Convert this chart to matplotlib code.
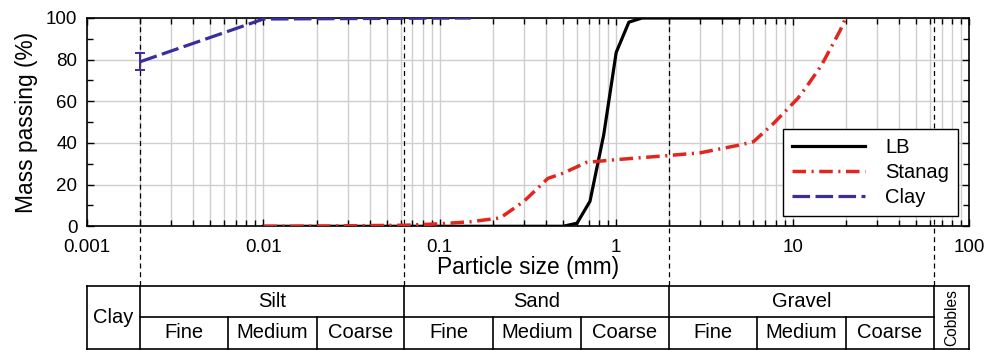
import numpy as np
import matplotlib.pyplot as plt
from matplotlib.ticker import FixedLocator, FuncFormatter, MultipleLocator, LogLocator

plt.rcParams['font.family'] = ['Liberation Sans', 'DejaVu Sans']

# -----------------------------
# Grading curves
# -----------------------------
lb_size = [0.01, 0.5, 0.6, 0.71, 0.85, 1.0, 1.18, 1.4, 5.0]
lb_pass = [0, 0, 1.5, 12, 44, 83.5, 98, 100, 100]

stanag_size = [0.01, 0.02, 0.063, 0.1, 0.15, 0.22, 0.3, 0.41, 0.5, 0.68,
               1.0, 2.0, 3.0, 5.0, 6.0, 7.8, 10.7, 12.0, 14.6, 18.6, 20.0]
stanag_pass = [0, 0.1, 0.5, 1.2, 2.2, 4, 12, 23, 25.5, 30.7,
               32, 34, 35.3, 39, 40.6, 49.4, 61.4, 67, 77.4, 94, 100]

clay_size = [0.002, 0.01, 0.15]
clay_pass = [79, 99.5, 100]
clay_err = [4, 0, 0]

# soil classification boundaries (mm)
main_bounds = [0.002, 0.063, 2, 63]
silt_edges = [0.002, 0.0063, 0.02, 0.063]
sand_edges = [0.063, 0.2, 0.63, 2]
gravel_edges = [2, 6.3, 20, 63]
main_names = ["Silt", "Sand", "Gravel"]
sub_names = ["Fine", "Medium", "Coarse"]

x_ticks = [0.001, 0.01, 0.1, 1, 10, 100]

# -----------------------------
# Figure / axes layout
# -----------------------------
W, H = 987, 350
fig = plt.figure(figsize=(W / 100, H / 100), dpi=100)

ax_l, ax_r, ax_t, ax_b = 87, 969, 18, 226.3
tab_t, tab_b = 286, 348.5
ax = fig.add_axes([ax_l / W, 1 - ax_b / H, (ax_r - ax_l) / W, (ax_b - ax_t) / H])

red = '#e3261d'
blue = '#3a2d9c'

ax.plot(lb_size, lb_pass, color='black', lw=2.3, label='LB', zorder=4)
ax.plot(stanag_size, stanag_pass, color=red, lw=2.5,
        dashes=(3.9, 1.6, 0.6, 1.6), label='Stanag', zorder=4)
ax.plot(clay_size, clay_pass, color=blue, lw=2.3, dashes=(5.5, 1.7),
        label='Clay', zorder=5)
ax.errorbar(clay_size[:1], clay_pass[:1], yerr=clay_err[:1], fmt='none',
            ecolor=blue, elinewidth=1.4, capsize=3.6, capthick=1.4, zorder=5)

ax.set_xscale('log')
ax.set_xlim(1e-3, 1e2)
ax.set_ylim(0, 100)
ax.xaxis.set_major_locator(FixedLocator(x_ticks))
ax.xaxis.set_major_formatter(FuncFormatter(lambda v, p: '%g' % v))
ax.xaxis.set_minor_locator(LogLocator(base=10, subs=np.arange(2, 10)))
ax.xaxis.set_minor_formatter(FuncFormatter(lambda v, p: ''))
ax.yaxis.set_major_locator(MultipleLocator(20))
ax.yaxis.set_minor_locator(MultipleLocator(10))

ax.grid(True, which='major', axis='both', color='#cfcfcf', lw=1.0, zorder=0)
ax.grid(True, which='minor', axis='x', color='#cfcfcf', lw=1.0, zorder=0)
ax.set_axisbelow(True)

ax.tick_params(which='both', direction='in', top=True, right=True,
               labelsize=13.5, width=1.0)
ax.tick_params(axis='x', which='major', pad=9)
ax.tick_params(axis='y', which='major', pad=7)
ax.tick_params(which='major', length=5)
ax.tick_params(which='minor', length=4)
for s in ax.spines.values():
    s.set_linewidth(1.2)

ax.set_xlabel('Particle size (mm)', fontsize=16.4, labelpad=0)
ax.set_ylabel('Mass passing (%)', fontsize=16.4, labelpad=6)

leg = ax.legend(loc='upper right', bbox_to_anchor=(0.9875, 0.4686),
                fontsize=14.5, frameon=True, fancybox=False, framealpha=1,
                edgecolor='black', handlelength=3.6, borderpad=0.45,
                labelspacing=0.3, handletextpad=1.0, borderaxespad=0)
leg.get_frame().set_linewidth(1.0)
leg.set_zorder(6)

# dashed boundaries from plot top down to the table
y_bottom = -(tab_t - ax_b) / (ax_b - ax_t)
for b in main_bounds:
    ax.plot([b, b], [1, y_bottom], transform=ax.get_xaxis_transform(),
            color='black', lw=0.9, dashes=(4, 3), clip_on=False, zorder=3)

# -----------------------------
# Classification table
# -----------------------------
tab = fig.add_axes([ax_l / W, 1 - tab_b / H, (ax_r - ax_l) / W, (tab_b - tab_t) / H])
tab.set_xscale('log')
tab.set_xlim(1e-3, 1e2)
tab.set_ylim(0, 2)
tab.axis('off')

lk = dict(color='black', lw=1.2, clip_on=False, solid_capstyle='projecting')
tab.plot([1e-3, 1e2], [2, 2], **lk)
tab.plot([1e-3, 1e2], [0, 0], **lk)
tab.plot([main_bounds[0], main_bounds[-1]], [1, 1], **lk)
for b in [1e-3] + main_bounds + [1e2]:
    tab.plot([b, b], [0, 2], **lk)

def gmean(a, b):
    return np.sqrt(a * b)

for name, edges in zip(main_names, [silt_edges, sand_edges, gravel_edges]):
    for e in edges[1:-1]:
        tab.plot([e, e], [0, 1], **lk)
    tab.text(gmean(edges[0], edges[-1]), 1.5, name, ha='center', va='center',
             fontsize=14.5)
    for i, sub in enumerate(sub_names):
        tab.text(gmean(edges[i], edges[i + 1]), 0.5, sub, ha='center',
                 va='center', fontsize=14.5)

tab.text(gmean(1e-3, main_bounds[0]), 1.0, 'Clay', ha='center', va='center',
         fontsize=14.5)
tab.text(gmean(main_bounds[-1], 1e2), 1.0, 'Cobbles', ha='center', va='center',
         fontsize=11.2, rotation=90)

fig.savefig('out.png', dpi=100)
